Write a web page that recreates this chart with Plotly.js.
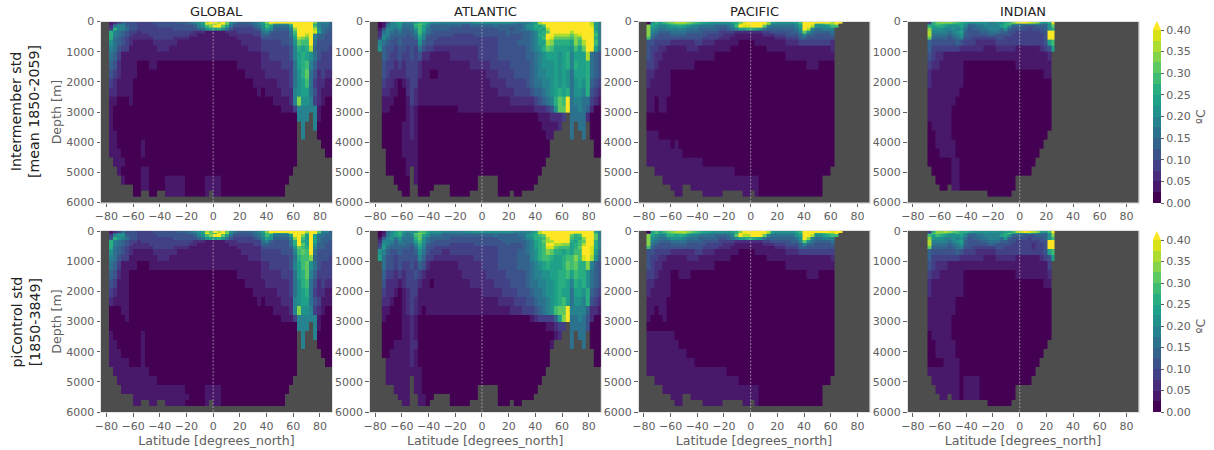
<!DOCTYPE html>
<html>
<head>
<meta charset="utf-8">
<script src="https://cdn.plot.ly/plotly-3.0.1.min.js"></script>
<style>html,body{margin:0;padding:0;background:#fff}</style>
</head>
<body>
<div id="chart" style="width:1214px;height:450px"></div>
<script>
const latEdges = [-84,-81,-78,-75,-72,-69,-66,-63,-60,-57,-54,-51,-48,-45,-42,-39,-36,-33,-30,-27,-24,-21,-18,-15,-12,-9,-6,-3,0,3,6,9,12,15,18,21,24,26,30,33,36,39,42,45,48,51,54,57,60,63,66,69,72,75,78,81,84,87,90];
const depthEdges = [0,50,100,200,300,400,500,600,800,1000,1300,1600,1900,2200,2500,2800,3000,3300,3600,3900,4200,4500,4800,5100,5400,5600,5800];
const viridisBins = ['#440154','#48186a','#472d7b','#424086','#3b528b','#33638d','#2c728e','#26828e','#21918c','#1fa088','#28ae80','#3fbc73','#5ec962','#84d44b','#addc30','#d8e219','#fde725'];
const binWidth = 0.025;
const panelTitles = ['GLOBAL','ATLANTIC','PACIFIC','INDIAN'];
const rowTitles = ['Intermember std<br>[mean 1850-2059]','piControl std<br>[1850-3849]'];
const cbTicks = [0,0.05,0.1,0.15,0.2,0.25,0.3,0.35,0.4];

// Values are bin codes: 0..f = 0.025 wide bins, g = above 0.40, '.' = land.
const globalInter = [
"..12354443 3334444445 556789egge gc86555567 9dgggggggg gggd8775",
"..14664443 3334444444 455679gecg gd75444567 9ad8888cgg ggg97665",
"..26775443 3333444444 444578bdgg c964444456 8b966669gg gggb7665",
"..3a776443 3333333344 444456899a 8643333345 79855557dg ggge8655",
"..a7654332 3333333333 3332221111 1222333333 67544446bg gggf9654",
"..a7654322 2233333333 3322111111 1122222233 55444446ag geg75544",
"..a6543222 2223333322 2211111111 1111222222 444444459e dcg75544",
"..86543211 1112222221 1111111111 1111122222 333334458c bbg64444",
"..76433111 1111222111 1111111111 1111111222 333333347a 9ae54443",
"..65311111 1111111111 1111111111 1111111111 2233333479 a9864333",
"..54211110 0011000000 0000000000 0000111111 2222233369 ab753333",
"..43211110 0000000000 0000000000 0000001111 1222222368 ac642322",
"..32111100 0000000000 0000000000 0000000011 1111222368 9b632211",
"..22111100 0000000000 0000000000 0000000001 0111122278 99642111",
"..11000100 0000000000 0000000000 0000000000 000111127d 88732100",
"..10000000 0000000000 0000000000 0000000000 0000011137 77771000",
"..10000000 0000000000 0000000000 0000000000 0000000007 77.71000",
"..10000000 0000000000 0000000000 0000000000 000000000. 7..70000",
"..11000000 0000000000 0000000000 0000000000 000000000. 7...0000",
"..11000000 1000000000 0000000000 0000000000 000000000. .....000",
"..11100000 1000000000 0000000000 0000000000 000000000. ......00",
"...1110000 0000000000 0000000000 0000000000 000000000.",
"....100000 1100000000 0000000000 0000000000 00000000..",
".....10000 1100001111 1000001111 0000000000 0000000...",
"........00 1100001111 1000001111 0000000000 000000....",
"........00 ..00..1111 1000001.11 0000000000 000000...."
];
const atlanticInter = [
"..01478977 78aa987777 7777778888 8888887777 89eggggggg ggggge97",
"..01577966 7bcb866666 6665566666 6666665567 89degggggg ggggge87",
"..01677866 6ab9755555 5554455555 5655555568 8a9bgggggg gggggf97",
"..14776755 68b9655555 4444444444 4455545567 89a9eggggg gggggg97",
"..26765655 57b8654444 4444444444 4444555555 679acggggg eggggga7",
"..27755554 56a7544444 4333334444 4444544455 67aaggeeee cefgggb7",
"..38654544 4597444333 3333333333 3344444455 679bgfcccc bdcggga7",
"..76544544 4485443333 3333333333 3344444555 6799edaaaa 9dbeggb7",
"..85443443 4364332222 2222222333 3344444445 678acb9999 8b9cgg96",
"...5433433 4342211111 2222222333 3344444445 567899989a 7999e654",
"...4332323 3321111111 1111122222 3333344444 567888989a 7a99a654",
"...4322223 3321100111 1111111112 2233334444 5677889898 6999a654",
"...3221012 3311111111 1111111111 2222333334 5667789898 6898a543",
"...2211002 3211111111 1111111111 1122223333 4556789a9a 6887a432",
"...1110001 3211111111 1111111111 1111122222 234567acbg 67766321",
"...1100001 2100000000 0011111111 1111111111 1222348ccg 66765200",
"...0000001 2100000000 0000000000 0000000000 001112223. 66662000",
"...0000011 2100000000 0000000000 0000000000 00011112.. 6.66.000",
"...0000011 2100000000 0000000000 0000000000 000011.... 6..6.000",
"...0000011 1100000000 0000000000 0000000000 00000..... ......00",
"....000011 1100000000 0000000000 0000000000 00000..... ......00",
"....000001 1100000000 0000000000 0000000000 0000......",
"....000001 .100000000 0000000000 0000000000 000.......",
"......0000 .100000000 0000000... ..00000000 00........",
".......000 ..0000.... 0000000... ..00000000 0.........",
"........00 ..000..... 00000..... ..000.00.."
];
const pacificInter = [
"..08a9bcde eedcba9988 8889acfggg ggd9888889 bgggggggeg g",
"..19a88abc ccba998777 7778aegggg gge8777778 aggg99bcdg",
"..d9877899 a987766665 5567bgffgg gc76666667 9gge8889bb",
"..d8766777 7766655555 4456799aa9 8655555556 8ge766777.",
"..d7655566 6655554444 3333222222 2334444455 7c8655556.",
"..d6544455 5544444333 3222111111 1222333444 575544445.",
"..b5444444 4444443333 2221111111 1111222333 554444444.",
"..44333322 2222332221 1111100001 1111111222 333333332.",
"..43322111 1122211111 1110000000 0011111111 111111112.",
"..43221111 1111111110 0000000000 0000000111 111111111.",
"..33211111 1111000000 0000000000 0000000000 001110000.",
"..22111100 0000000000 0000000000 0000000000 000000000.",
"..21111100 0000000000 0000000000 0000000000 000000000.",
"..11111100 0000000000 0000000000 0000000000 000000000.",
"..11011000 0000000000 0000000000 0000000000 000000000.",
"..11011000 0000000000 0000000000 0000000000 000000000.",
"..00000000 0000000000 0000000000 0000000000 000000000.",
"..00000000 0000000000 0000000000 0000000000 000000000.",
"..11100000 0000000000 0000000000 0000000000 000000000.",
"..11111101 0000000000 0000000000 0000000000 000000000.",
"..11111111 1000000000 0000000000 0000000000 000000000.",
"..11111111 1111110000 0000000000 0000000000 000000000.",
"....111111 1111111111 1111000000 0000000000 00000000..",
"......1111 1111111111 1111111111 0000000000 000000....",
"........11 1..1111111 1111111111 0000000000 000000....",
".........1 1.....1111 1.....11.1 0000000000 000000...."
];
const indianInter = [
".....3acdd dcba988888 7788aadfgg fed98ag...",
".....5bcba a9a9866778 7778ac9877 987658e...",
".....a9aa9 8889755667 7779a85554 445558c...",
".....d8887 7878645566 7776854444 344458a...",
".....e7777 6789544455 6665544333 33344gg...",
".....e6666 5678544444 5544443333 33334gg...",
".....c5555 4567443333 3344333333 33334gg...",
".....54444 4454333222 2233333333 333349b...",
".....53333 3332222221 1122222111 1112349...",
".....43221 1111111111 1111111111 111112....",
".....32211 1111000000 0000000111 111111....",
".....21111 1111000000 0000000000 000011....",
".....21111 1111000000 0000000000 000000....",
".....11111 1110000000 0000000000 000000....",
".....11111 1100000000 0000000000 000000....",
".....11111 1000000000 0000000000 000000....",
".....11111 1000000000 0000000000 000000....",
".....01111 1000000000 0000000000 000000....",
".....00111 1000000000 0000000000 00000.....",
".....00111 1100000000 0000000000 0000......",
".....00011 1100000000 0000000000 000.......",
".....00000 0110000000 0000000000 00........",
"......0000 0110000000 0000000000 0.........",
".......000 0110000000 0000000...",
"........00 .110000000 0000000...",
".......... .......... 000000...."
];
const globalControl = [
"..12364443 3334444445 556789ecge gc86555567 9dgggggggg geggc775",
"..15774443 3334444444 455679gcbg gd75444567 8bd8889egg gbgga665",
"..37885443 3333444444 444578bdgg c964444456 8b966669gg d9g96655",
"..4a876443 3333333344 444456899a 8643333345 79855557dg b9g96555",
"..a7654332 3333333333 3332221111 1222333333 67544446ag a9g96554",
"..a7654322 2233333333 3322111111 1122222233 55444446ag c9g85544",
"..a6543222 2223333322 2211111111 1111222222 444444458c bag75544",
"..86543211 1112222221 1111111111 1111122222 333334447b cbg64444",
"..76433111 1111222111 1111111111 1111111222 333333346a bbd54443",
"..65311110 0011111111 1111111111 1111111111 2233333479 bc864333",
"..54211000 0000000000 0000000000 0000111111 2222233369 ac753333",
"..43111000 0000000000 0000000000 0000001111 1222222368 ab642322",
"..32111000 0000000000 0000000000 0000000011 1111222368 9a632211",
"..21111000 0000000000 0000000000 0000000001 0111122278 99643111",
"..00011000 0000000000 0000000000 0000000000 000111127d 88732100",
"..00001000 0000000000 0000000000 0000000000 0000011137 77771000",
"..00000000 0000000000 0000000000 0000000000 0000000007 77.71000",
"..10000000 1000000000 0000000000 0000000000 000000000. 7..70000",
"..11000000 1000000000 0000000000 0000000000 000000000. 7...0000",
"..11100000 1000000000 0000000000 0000000000 000000000. .....000",
"..11111000 1000000000 0000000000 0000000000 000000000. ......00",
"...1111111 1100000000 0000000000 0000000000 000000000.",
"....111111 1111000000 0000000000 0000000000 00000000..",
".....11111 1111111111 1000001111 0000000000 0000000...",
"........11 1111111111 1100001111 0000000000 000000....",
"........11 ..11..1111 1000001.11 0000000000 000000...."
];
const atlanticControl = [
"..01679a87 88bb988877 7777888888 8888887777 89eggggggg gggggg97",
"..01689b86 8cdc977766 6666666666 6666665667 8aeggggggg geegggb7",
"..02689a76 7bc9866655 5555555555 5655555668 9abcgggggg cabgggc7",
"..15786866 6ac8655555 4444444444 4455555567 8aabeggggg baadggc7",
"..27775766 69b8654444 4444444444 4445555556 79aceegggg a9bcgga7",
"..38765665 57a7544444 3333334444 4444544456 79abggeedd 9abegga7",
"..49655555 4697443333 3333333333 3344444456 79abffcbbb 9acggfa7",
"..87544544 4586433322 3333333333 3344444556 78abdcaa9a 9bbggf96",
"..96443444 4475332222 2222223333 3344444555 78abba99ab bdbfge85",
"...6443433 4354211111 1122222233 3344444555 6789a999ac bcaad754",
"...5332323 3432111111 1112222223 3333444445 6778899aab 9baa8654",
"...4222123 3321101111 1111122222 2333344445 6677889aa9 7a9a8654",
"...3221012 3311111111 1111111122 2223333444 5667889a99 6998a543",
"...2210012 3211111111 1111111111 1122223334 4566789ab9 6887a432",
"...1100012 3210111111 1111111111 1111122233 345678bccg 77775221",
"...1000011 2100000000 0000000000 0000000000 12333359dg 66764200",
"...0000011 2100000000 0000000000 0000000000 000011233. 66664000",
"...0000011 2100000000 0000000000 0000000000 00000012.. 6.66.000",
"...0001111 2200000000 0000000000 0000000000 000001.... 6..6.000",
"...0011111 2100000000 0000000000 0000000000 00000..... ......00",
"....111111 2100000000 0000000000 0000000000 00000..... ......00",
"....111111 1110000000 0000000000 0000000000 0000......",
"....111111 .110000000 0000000000 0000000000 000.......",
"......1111 .110000000 0000000... ..00000000 00........",
".......111 ..1100.... 0000000... ..00000000 0.........",
"........11 ..110..... 00000..... ..000.00.."
];
const pacificControl = [
"..09b9bcde eedcba9988 8889adgggg gge9888889 bgggggggfg g",
"..2ab99bcc cdba998777 7778agfggg ggd8777778 aggg9abcdg",
"..d9877aa9 a987766665 5567cgeegg gc76666668 9gge889abb",
"..d8766788 8766655555 4456799aa9 8655555556 8gd766777.",
"..d7655566 6655554444 3333222222 2334444455 7c8655556.",
"..d6544455 5544444333 3222111111 1222333444 575544445.",
"..b5444444 4444443333 2221111111 1111222333 554444444.",
"..44333322 2222332221 1111100001 1111111222 333333333.",
"..43322111 1122211111 1110000000 0011111111 111111112.",
"..43221111 1111111110 0000000000 0000000111 111111111.",
"..33211100 1110000000 0000000000 0000000000 001110000.",
"..22111100 0000000000 0000000000 0000000000 000000000.",
"..21111100 0000000000 0000000000 0000000000 000000000.",
"..11111000 0000000000 0000000000 0000000000 000000000.",
"..11011000 0000000000 0000000000 0000000000 000000000.",
"..10001000 0000000000 0000000000 0000000000 000000000.",
"..00000000 0000000000 0000000000 0000000000 000000000.",
"..11111110 0000000000 0000000000 0000000000 000000000.",
"..11111111 0000000000 0000000000 0000000000 000000000.",
"..11111111 1100000000 0000000000 0000000000 000000000.",
"..11111111 1111000000 0000000000 0000000000 000000000.",
"..11111111 1111111111 1100000000 0000000000 000000000.",
"....111111 1111111111 1111100000 0000000000 00000000..",
"......1111 1111111111 1111111111 0000000000 000000....",
"........11 1..1111111 1111111111 0000000000 000000....",
".........1 1.....1111 1.....11.1 0000000000 000000...."
];
const indianControl = [
".....3adde dcbaa98888 888899befg fed98bg...",
".....6cdcb a9ba866778 7778ac9877 987658e...",
".....b9ba9 8889755667 7779a85554 445558d...",
".....d8887 7878645566 7776854444 344458b...",
".....e7777 6789544455 6665544333 33344gg...",
".....e6666 5678544444 5544443333 32334gg...",
".....c5555 4567443333 3344333333 32334gg...",
".....54444 4454333222 2233333333 333349b...",
".....53333 3332222221 1122222111 1112349...",
".....43222 1111111111 1111111111 111113....",
".....32211 1111000000 0000000111 111112....",
".....21111 1111000000 0000000000 000011....",
".....21111 1111000000 0000000000 000000....",
".....11111 1100000000 0000000000 000000....",
".....11111 1100000000 0000000000 000000....",
".....11111 1000000000 0000000000 000000....",
".....11111 1000000000 0000000000 000000....",
".....01111 1000000000 0000000000 000000....",
".....00111 1100000000 0000000000 00000.....",
".....00111 1100000000 0000000000 0000......",
".....00001 1110000000 0000000000 000.......",
".....11111 1110000000 0000000000 00........",
"......1111 1110111100 0000000000 0.........",
".......111 1110111100 0000000...",
"........11 .110111100 0000000...",
".......... .......... 000000...."
];
const panels = [globalInter, atlanticInter, pacificInter, indianInter, globalControl, atlanticControl, pacificControl, indianControl];

// layout in pixels
const W = 1214, H = 450;
const colLeft = [101, 369.8, 638.5, 907.5], colWidth = 231;
const rowTop = [21.6, 231], rowHeight = 181;
const cbLeft = 1152.7, cbThick = 8.3, cbBodyTop = [30, 240];
const INK = '#606060', LAND = '#4d4d4d';

function codeToValue(ch) {
  if (ch === '.') return null;
  return (parseInt(ch, 17) + 0.5) * binWidth;
}
function decode(rows) {
  return rows.map(r => {
    const s = r.replace(/ /g, '').padEnd(latEdges.length - 1, '.');
    if (s.length !== latEdges.length - 1) console.error('bad row', r);
    return Array.from(s).map(codeToValue);
  });
}
function stepped(colors) {
  const out = [], n = colors.length;
  colors.forEach((c, i) => { out.push([i / n, c]); out.push([(i + 1) / n, c]); });
  return out;
}
const px = v => v / W, py = v => 1 - v / H;

const traces = [], annotations = [], shapes = [];
const layout = {
  width: W, height: H, autosize: false,
  margin: {l: 0, r: 0, t: 0, b: 0},
  paper_bgcolor: '#ffffff', plot_bgcolor: LAND,
  font: {family: 'DejaVu Sans, sans-serif', size: 11, color: INK},
  showlegend: false, annotations, shapes
};

panels.forEach((rows, k) => {
  const row = k < 4 ? 0 : 1, col = k % 4, id = k + 1;
  const xn = 'xaxis' + id, yn = 'yaxis' + id;
  const xa = id === 1 ? 'x' : 'x' + id, ya = id === 1 ? 'y' : 'y' + id;
  traces.push({
    type: 'heatmap', x: latEdges, y: depthEdges, z: decode(rows),
    xaxis: xa, yaxis: ya, zmin: 0, zmax: binWidth * viridisBins.length,
    colorscale: stepped(viridisBins), showscale: false, zsmooth: false, hoverongaps: false
  });
  layout[xn] = {
    domain: [px(colLeft[col]), px(colLeft[col] + colWidth)], anchor: ya,
    range: [-84, 89], tick0: 0, dtick: 20, ticks: 'outside', ticklen: 3.5, tickwidth: 1, tickcolor: INK,
    showgrid: false, zeroline: false, showline: true, mirror: true, linecolor: '#e2e2e2', linewidth: 1,
    tickfont: {size: 11, color: INK}
  };
  if (row === 1) layout[xn].title = {text: 'Latitude [degrees_north]', font: {size: 12.6, color: INK}, standoff: 3};
  layout[yn] = {
    domain: [py(rowTop[row] + rowHeight), py(rowTop[row])], anchor: xa,
    range: [6000, 0], tick0: 0, dtick: 1000, ticks: 'outside', ticklen: 3.5, tickwidth: 1, tickcolor: INK,
    showgrid: false, zeroline: false, showline: true, mirror: true, linecolor: '#e2e2e2', linewidth: 1,
    tickfont: {size: 11, color: INK}
  };
  if (col === 0) layout[yn].title = {text: 'Depth [m]', font: {size: 12.6, color: INK}, standoff: 1};
  shapes.push({type: 'line', xref: xa, yref: ya, x0: 0, x1: 0, y0: 0, y1: 6000,
    line: {color: 'rgba(205,205,205,0.75)', width: 0.8, dash: '2px,1.5px'}, layer: 'above'});
  if (row === 0) annotations.push({
    text: panelTitles[col], xref: 'paper', yref: 'paper', x: px(colLeft[col] + colWidth / 2), y: py(11.5),
    xanchor: 'center', yanchor: 'middle', showarrow: false, font: {size: 13, color: '#222222'}
  });
});

rowTitles.forEach((t, r) => {
  annotations.push({
    text: t, xref: 'paper', yref: 'paper', x: px(25), y: py(rowTop[r] + rowHeight / 2),
    xanchor: 'center', yanchor: 'middle', textangle: -90, showarrow: false, align: 'center',
    font: {size: 14.2, color: '#222222'}
  });
  // colour scale carried by an off-range point pair so that the bar has 16 steps from 0 to 0.40
  traces.push({
    type: 'scatter', mode: 'markers', x: [-500, -500], y: [-500, -500], xaxis: 'x', yaxis: 'y', hoverinfo: 'skip',
    marker: {
      color: [0, 0.4], cmin: 0, cmax: 0.4, colorscale: stepped(viridisBins.slice(0, 16)), showscale: true, opacity: 0,
      colorbar: {
        x: px(cbLeft), xanchor: 'left', xpad: 0, ypad: 0, thickness: cbThick, thicknessmode: 'pixels',
        y: py(cbBodyTop[r]), yanchor: 'top', len: (rowTop[r] + rowHeight - cbBodyTop[r]) / H, lenmode: 'fraction',
        tickvals: cbTicks, ticktext: cbTicks.map(v => v.toFixed(2)), ticks: 'outside', ticklen: 3.5, tickcolor: INK,
        tickfont: {size: 11, color: INK}, outlinewidth: 0, borderwidth: 0,
        title: {text: 'ºC', side: 'right', font: {size: 12.6, color: INK}}
      }
    }
  });
  const top = cbBodyTop[r];
  shapes.push({
    type: 'path', xref: 'paper', yref: 'paper', layer: 'above', line: {width: 0}, fillcolor: viridisBins[16],
    path: `M ${px(cbLeft)} ${py(top)} L ${px(cbLeft + cbThick)} ${py(top)} L ${px(cbLeft + cbThick / 2)} ${py(top - 9)} Z`
  });
});

Plotly.newPlot('chart', traces, layout, {displayModeBar: false, responsive: false});
</script>
</body>
</html>
